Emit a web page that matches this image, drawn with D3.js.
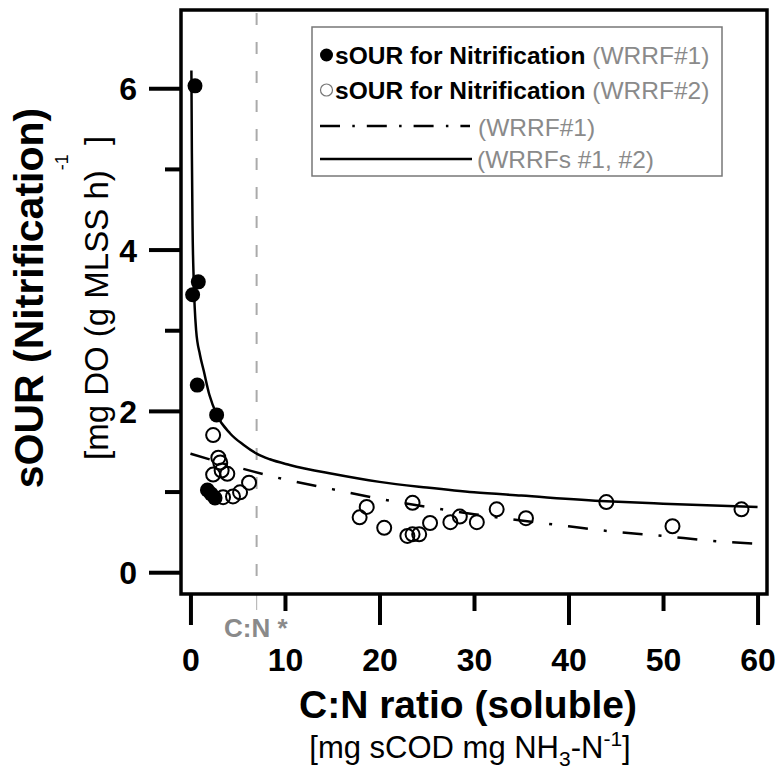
<!DOCTYPE html>
<html>
<head>
<meta charset="utf-8">
<script src="https://cdn.jsdelivr.net/npm/d3@7"></script>
<style>
  body { margin: 0; background: #fff; }
  svg { display: block; font-family: "Liberation Sans", Arial, sans-serif; }
</style>
</head>
<body>
<div id="chart"></div>
<script>
// sOUR for nitrification, WRRF#1 (filled markers)
const wrrf1X = [0.48, 0.83, 0.23, 0.72, 2.77, 1.8, 2.2, 2.6];
const wrrf1Y = [6.03, 3.60, 3.44, 2.32, 1.95, 1.02, 0.97, 0.92];

// sOUR for nitrification, WRRF#2 (open markers)
const wrrf2X = [2.4, 2.95, 3.15, 2.4, 3.3, 3.9, 3.45, 4.5, 5.25, 6.2,
  17.9, 18.65, 20.5, 22.95, 23.5, 23.5, 24.2, 25.35, 27.5, 28.5,
  30.3, 32.4, 35.5, 44.0, 51.0, 58.3];
const wrrf2Y = [1.70, 1.42, 1.36, 1.21, 1.26, 1.22, 0.93, 0.94, 0.99, 1.11,
  0.68, 0.81, 0.55, 0.45, 0.86, 0.47, 0.47, 0.61, 0.62, 0.69,
  0.62, 0.78, 0.67, 0.87, 0.57, 0.78];

// Trend line for WRRF#1 (dash-dot)
const trend1X = [0, 5, 10, 15, 20, 25, 30, 35, 40, 45, 50, 55, 60.4];
const trend1Y = [1.47, 1.30, 1.15, 1.03, 0.91, 0.81, 0.72, 0.64, 0.57, 0.50, 0.45, 0.39, 0.35];

// Trend line for WRRFs #1, #2 (solid)
const trendAllX = [0.1, 0.15, 0.22, 0.35, 0.6, 1.0, 1.4, 2.0, 2.8, 4.2, 5.6, 7, 8.4,
  10.5, 15, 20, 25, 30, 35, 44, 50, 60];
const trendAllY = [6.22, 5.2, 4.3, 3.6, 3.0, 2.7, 2.5, 2.2, 1.95, 1.72, 1.58, 1.47, 1.40,
  1.33, 1.22, 1.12, 1.05, 0.99, 0.95, 0.88, 0.85, 0.81];

// Critical C:N ratio
const cnStar = 7.0;

const xTicks = [0, 10, 20, 30, 40, 50, 60];
const yTicks = [0, 1, 2, 3, 4, 5, 6];

const legendRows = [
  { bold: "sOUR for Nitrification", note: " (WRRF#1)" },
  { bold: "sOUR for Nitrification", note: " (WRRF#2)" },
  { bold: "", note: "(WRRF#1)" },
  { bold: "", note: "(WRRFs #1, #2)" }
];

const width = 778;
const height = 770;
const frame = { left: 181, right: 767, top: 10, bottom: 594 };
const grey = "#8a8a8a";

const svg = d3.select("#chart").append("svg")
  .attr("width", width)
  .attr("height", height);

const x = d3.scaleLinear().domain([-1, 61]).range([frame.left, frame.right]);
const y = d3.scaleLinear().domain([-0.27, 6.97]).range([frame.bottom, frame.top]);

// Vertical reference line at C:N*
svg.append("line")
  .attr("x1", x(cnStar)).attr("x2", x(cnStar))
  .attr("y1", frame.top + 3).attr("y2", frame.bottom)
  .attr("stroke", "#aaa")
  .attr("stroke-width", 2)
  .attr("stroke-dasharray", "12,17");
svg.append("line")
  .attr("x1", x(cnStar)).attr("x2", x(cnStar))
  .attr("y1", frame.bottom).attr("y2", frame.bottom + 16)
  .attr("stroke", "#bbb")
  .attr("stroke-width", 1.2);
svg.append("text")
  .attr("x", 224).attr("y", 637)
  .attr("font-size", 26).attr("font-weight", "bold")
  .attr("fill", grey)
  .text("C:N *");

// Trend lines
const line = d3.line()
  .x(d => x(d[0]))
  .y(d => y(d[1]))
  .curve(d3.curveMonotoneX);

svg.append("path")
  .datum(d3.zip(trend1X, trend1Y))
  .attr("d", line)
  .attr("fill", "none")
  .attr("stroke", "#000")
  .attr("stroke-width", 2.5)
  .attr("stroke-dasharray", "20,16,3,16");

svg.append("path")
  .datum(d3.zip(trendAllX, trendAllY))
  .attr("d", line)
  .attr("fill", "none")
  .attr("stroke", "#000")
  .attr("stroke-width", 2.5);

// Markers
svg.append("g")
  .selectAll("circle")
  .data(d3.zip(wrrf2X, wrrf2Y))
  .join("circle")
  .attr("cx", d => x(d[0]))
  .attr("cy", d => y(d[1]))
  .attr("r", 7)
  .attr("fill", "none")
  .attr("stroke", "#000")
  .attr("stroke-width", 2);

svg.append("g")
  .selectAll("circle")
  .data(d3.zip(wrrf1X, wrrf1Y))
  .join("circle")
  .attr("cx", d => x(d[0]))
  .attr("cy", d => y(d[1]))
  .attr("r", 7.5)
  .attr("fill", "#000");

// Axes: long ticks on even steps, short ticks in between
const xAxis = svg.append("g")
  .attr("transform", `translate(0,${frame.bottom})`)
  .call(d3.axisBottom(x).tickValues(xTicks).tickSize(31).tickSizeOuter(0));
xAxis.select(".domain").remove();
xAxis.selectAll(".tick line")
  .attr("stroke-width", 4)
  .attr("y2", d => (d % 20 === 0 ? 31 : 17));
xAxis.selectAll(".tick text")
  .attr("y", 77).attr("dy", 0)
  .attr("font-size", 32).attr("font-weight", "bold")
  .attr("font-family", "Liberation Sans, Arial, sans-serif")
  .attr("fill", "#000");

const yAxis = svg.append("g")
  .attr("transform", `translate(${frame.left},0)`)
  .call(d3.axisLeft(y).tickValues(yTicks).tickSize(32).tickSizeOuter(0)
    .tickFormat(d => (d % 2 === 0 ? d : "")));
yAxis.select(".domain").remove();
yAxis.selectAll(".tick line")
  .attr("stroke-width", 4)
  .attr("x2", d => (d % 2 === 0 ? -32 : -16));
yAxis.selectAll(".tick text")
  .attr("x", -44).attr("dy", "0.36em")
  .attr("font-size", 32).attr("font-weight", "bold")
  .attr("font-family", "Liberation Sans, Arial, sans-serif")
  .attr("fill", "#000");

// Plot frame
svg.append("rect")
  .attr("x", frame.left).attr("y", frame.top)
  .attr("width", frame.right - frame.left)
  .attr("height", frame.bottom - frame.top)
  .attr("fill", "none")
  .attr("stroke", "#000")
  .attr("stroke-width", 3.5);

// Axis titles
svg.append("text")
  .attr("x", 468).attr("y", 718)
  .attr("text-anchor", "middle")
  .attr("font-size", 39).attr("font-weight", "bold")
  .text("C:N ratio (soluble)");

const xSub = svg.append("text")
  .attr("x", 470).attr("y", 758)
  .attr("text-anchor", "middle")
  .attr("font-size", 31);
xSub.append("tspan").text("[mg sCOD mg NH");
xSub.append("tspan").attr("font-size", 21).attr("dy", 8).text("3");
xSub.append("tspan").attr("dy", -8).text("-N");
xSub.append("tspan").attr("font-size", 21).attr("dy", -12).text("-1");
xSub.append("tspan").attr("dy", 12).text("]");

svg.append("text")
  .attr("transform", "translate(43,298) rotate(-90)")
  .attr("text-anchor", "middle")
  .attr("font-size", 41).attr("font-weight", "bold")
  .text("sOUR (Nitrification)");

const ySub = svg.append("text")
  .attr("transform", "translate(108,460) rotate(-90)")
  .attr("font-size", 33);
ySub.append("tspan").text("[mg DO (g MLSS h)");
ySub.append("tspan").attr("font-size", 18).attr("dy", -40).text("-1");
ySub.append("tspan").attr("dy", 40).text(" ]");

// Legend
const legend = svg.append("g");
legend.append("rect")
  .attr("x", 312).attr("y", 27)
  .attr("width", 410).attr("height", 149)
  .attr("fill", "#fff")
  .attr("stroke", "#777")
  .attr("stroke-width", 1.5);

const rowBaselines = [64, 99, 136, 168];
const rowTextX = [335, 335, 478, 477];

legendRows.forEach((row, i) => {
  const t = legend.append("text")
    .attr("x", rowTextX[i]).attr("y", rowBaselines[i])
    .attr("font-size", 24.5);
  if (row.bold) {
    t.append("tspan").attr("font-weight", "bold").attr("fill", "#000").text(row.bold);
  }
  t.append("tspan").attr("fill", grey).text(row.note);
});

legend.append("circle")
  .attr("cx", 326.5).attr("cy", 55).attr("r", 6.5)
  .attr("fill", "#000");
legend.append("circle")
  .attr("cx", 326.5).attr("cy", 90).attr("r", 6)
  .attr("fill", "none").attr("stroke", "#777").attr("stroke-width", 1.2);
legend.append("line")
  .attr("x1", 320).attr("x2", 470).attr("y1", 126).attr("y2", 126)
  .attr("stroke", "#000").attr("stroke-width", 2.5)
  .attr("stroke-dasharray", "20,12.3,2.5,12");
legend.append("line")
  .attr("x1", 320).attr("x2", 472).attr("y1", 159).attr("y2", 159)
  .attr("stroke", "#000").attr("stroke-width", 2.5);
</script>
</body>
</html>
